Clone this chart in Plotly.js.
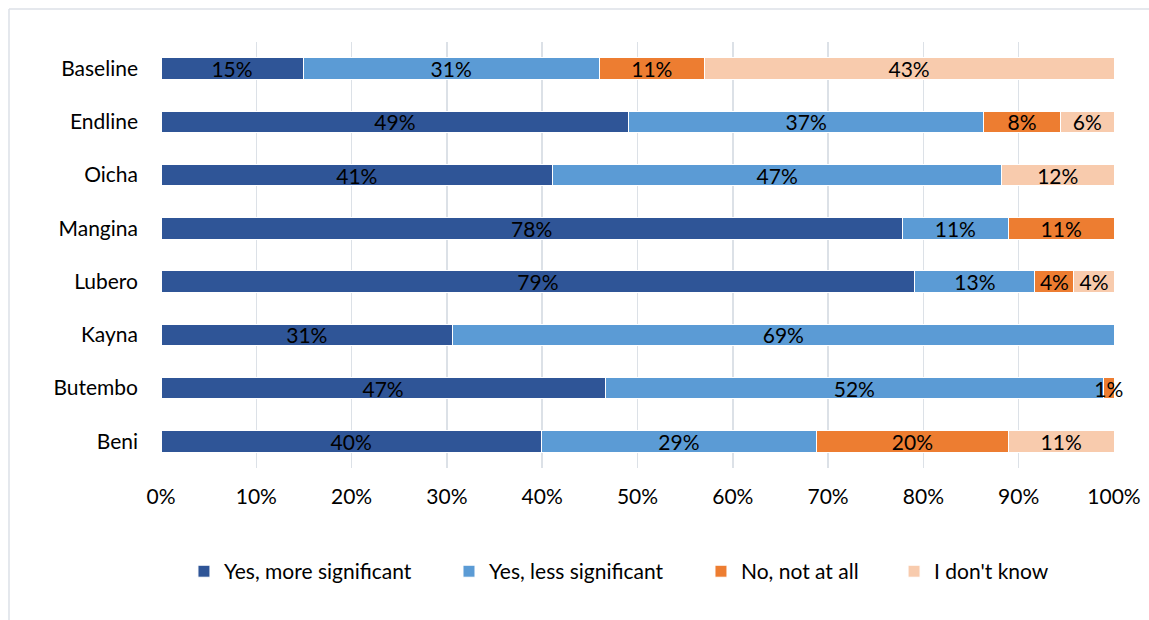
<!DOCTYPE html>
<html>
<head>
<meta charset="utf-8">
<script src="https://cdn.plot.ly/plotly-3.0.1.min.js"></script>
<style>html,body{margin:0;padding:0;background:#fff;}#chart{width:1149px;height:620px;}</style>
</head>
<body>
<div id="chart"></div>
<script>
const categories = ["Baseline", "Endline", "Oicha", "Mangina", "Lubero", "Kayna", "Butembo", "Beni"];
const seriesNames = ["Yes, more significant", "Yes, less significant", "No, not at all", "I don't know"];
const yesMore = [14.9, 49.1, 41.1, 77.8, 79.1, 30.6, 46.6, 39.9];
const yesLess = [31.1, 37.2, 47.1, 11.1, 12.6, 69.4, 52.3, 28.9];
const noNot   = [11.0, 8.1, 0, 11.1, 4.1, 0, 1.1, 20.1];
const dontKnow= [43.0, 5.6, 11.8, 0, 4.2, 0, 0, 11.1];
const xTickVals = [0,10,20,30,40,50,60,70,80,90,100];
const xTickText = ["0%","10%","20%","30%","40%","50%","60%","70%","80%","90%","100%"];
const colors = ["#2F5597", "#5B9BD5", "#ED7D31", "#F8CBAD"];

const series = [yesMore, yesLess, noNot, dontKnow];
const FONT = "Lato, 'Open Sans', sans-serif";
const FS = 21;
const legendIds = ["legend", "legend2", "legend3", "legend4"];
const legendX = [0.0241, 0.3022, 0.5666, 0.7692];

const traces = series.map((vals, i) => ({
  type: "bar",
  orientation: "h",
  name: seriesNames[i],
  legend: legendIds[i],
  y: categories,
  x: vals,
  text: vals.map(v => v > 0 ? Math.round(v) + "%" : ""),
  textposition: "inside",
  insidetextanchor: "middle",
  constraintext: "none",
  textangle: 0,
  cliponaxis: false,
  textfont: {family: FONT, size: FS, color: "#000"},
  hoverinfo: "none",
  marker: {color: colors[i], line: {color: "#ffffff", width: 1}}
}));

const layout = {
  width: 1149, height: 620,
  margin: {l: 161, r: 35, t: 42, b: 152},
  barmode: "stack",
  bargap: 0.6,
  paper_bgcolor: "#fff",
  plot_bgcolor: "#fff",
  font: {family: FONT, size: FS, color: "#000"},
  showlegend: true,
  xaxis: {range: [0, 100], tickvals: xTickVals, ticktext: xTickText, showgrid: true,
          gridcolor: "#DCE1E7", gridwidth: 1.5, zeroline: false, showline: false, ticks: "",
          ticklabelstandoff: 14, tickfont: {family: FONT, size: FS, color: "#000"}, fixedrange: true},
  yaxis: {autorange: "reversed", showgrid: false, zeroline: false, showline: false, ticks: "",
          ticklabelstandoff: 22, tickfont: {family: FONT, size: FS, color: "#000"}, fixedrange: true},
  shapes: [
    {type: "line", xref: "paper", yref: "paper", x0: -0.1595, x1: 1.1, y0: 1.0775, y1: 1.0775,
     line: {color: "#DCE1E7", width: 1.5}},
    {type: "line", xref: "paper", yref: "paper", x0: -0.1595, x1: -0.1595, y0: 1.0775, y1: -0.4,
     line: {color: "#DCE1E7", width: 1.5}}
  ]
};
legendIds.forEach((id, i) => {
  layout[id] = {orientation: "h", x: legendX[i], xanchor: "left", y: -0.195, yanchor: "top",
                font: {family: FONT, size: FS, color: "#000"}, itemwidth: 30,
                bgcolor: "rgba(0,0,0,0)"};
});

Plotly.newPlot("chart", traces, layout, {displayModeBar: false, staticPlot: true});
</script>
</body>
</html>
